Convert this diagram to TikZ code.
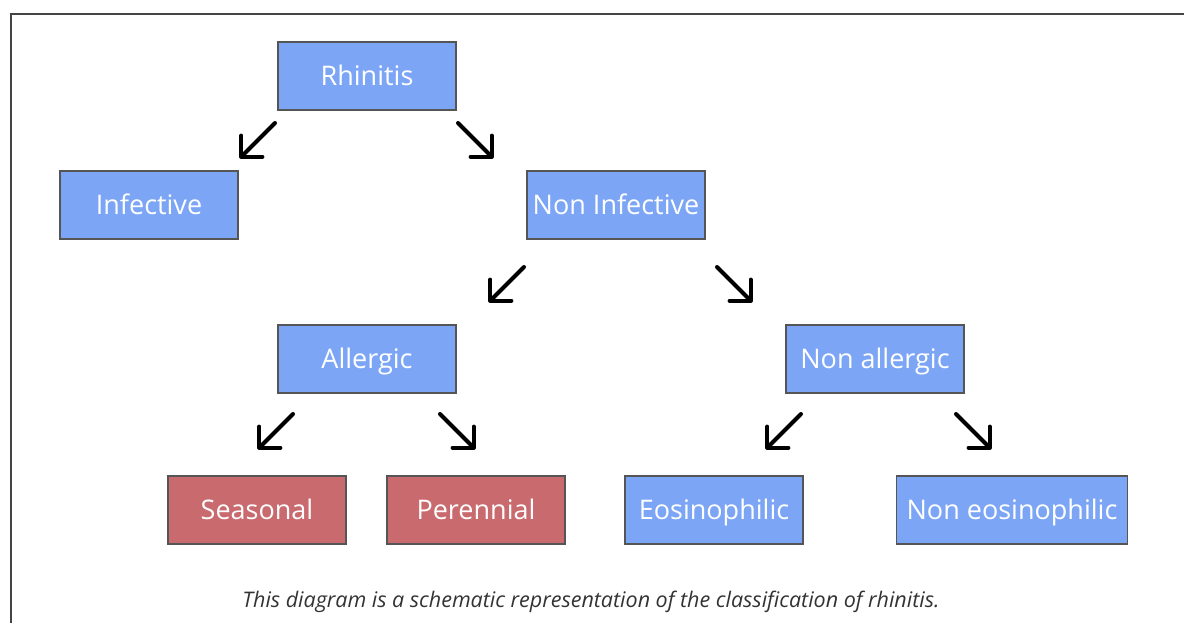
\documentclass[tikz,border=0pt]{standalone}
\usepackage{fontspec}
\setmainfont{Open Sans}[Ligatures=NoCommon]
\usetikzlibrary{arrows.meta}

\definecolor{boxblue}{RGB}{124,166,245}
\definecolor{boxred}{RGB}{201,107,110}
\definecolor{boxedge}{RGB}{85,85,85}
\definecolor{framegray}{RGB}{68,68,68}
\definecolor{capgray}{RGB}{51,51,51}

\tikzset{
  cls/.style={draw=boxedge, line width=1.2pt, fill=boxblue, text=white,
    minimum width=178pt, minimum height=68pt, inner sep=0pt,
    text height=19.3pt, text depth=0pt,
    font=\fontsize{27}{31}\selectfont},
  subcls/.style={cls, fill=boxred},
  arr/.style={line width=4pt, line cap=round,
    -{Straight Barb[angle=90:21pt, line cap=round, line join=round]}}
}

\begin{document}
\begin{tikzpicture}[x=1pt, y=-1pt]
        \useasboundingbox (0,0) rectangle (1184,623);

        % Рамка (сверху и слева)
        \draw[framegray, line width=2.5pt] (11,623) -- (11,14) -- (1184,14);

        % 1-й уровень
        \node[cls] (rhin) at (367,76) {Rhinitis};
        % 2-й уровень
        \node[cls] (inf) at (149,205) {Infective};
        \node[cls] (noninf) at (616,205) {Non Infective};
        % 3-й уровень
        \node[cls] (allerg) at (367,359) {Allergic};
        \node[cls] (nonallerg) at (875,359) {Non allergic};
        % 4-й уровень
        \node[subcls] (seas) at (257,510) {Seasonal};
        \node[subcls] (peren) at (476,510) {Perennial};
        \node[cls] (eos) at (714,510) {Eosinophilic};
        \node[cls, minimum width=231pt] (noneos) at (1012,510) {Non eosinophilic};

        % Стрелки (начала)
        \coordinate (a1) at (275,123); \coordinate (a2) at (458,123);
        \coordinate (a3) at (524,267); \coordinate (a4) at (717,267);
        \coordinate (a5) at (293,414); \coordinate (a6) at (440,414);
        \coordinate (a7) at (801,414); \coordinate (a8) at (956,414);

        \draw[arr] (a1) -- ++(-35,35);
        \draw[arr] (a2) -- ++(35,35);
        \draw[arr] (a3) -- ++(-35,35);
        \draw[arr] (a4) -- ++(35,35);
        \draw[arr] (a5) -- ++(-35,35);
        \draw[arr] (a6) -- ++(35,35);
        \draw[arr] (a7) -- ++(-35,35);
        \draw[arr] (a8) -- ++(35,35);

        % Подпись
        \node[text=capgray, font=\fontsize{21.5}{25}\selectfont\itshape] (cap) at (591,602)
          {This diagram is a schematic representation of the classification of rhinitis.};
\end{tikzpicture}
\end{document}
